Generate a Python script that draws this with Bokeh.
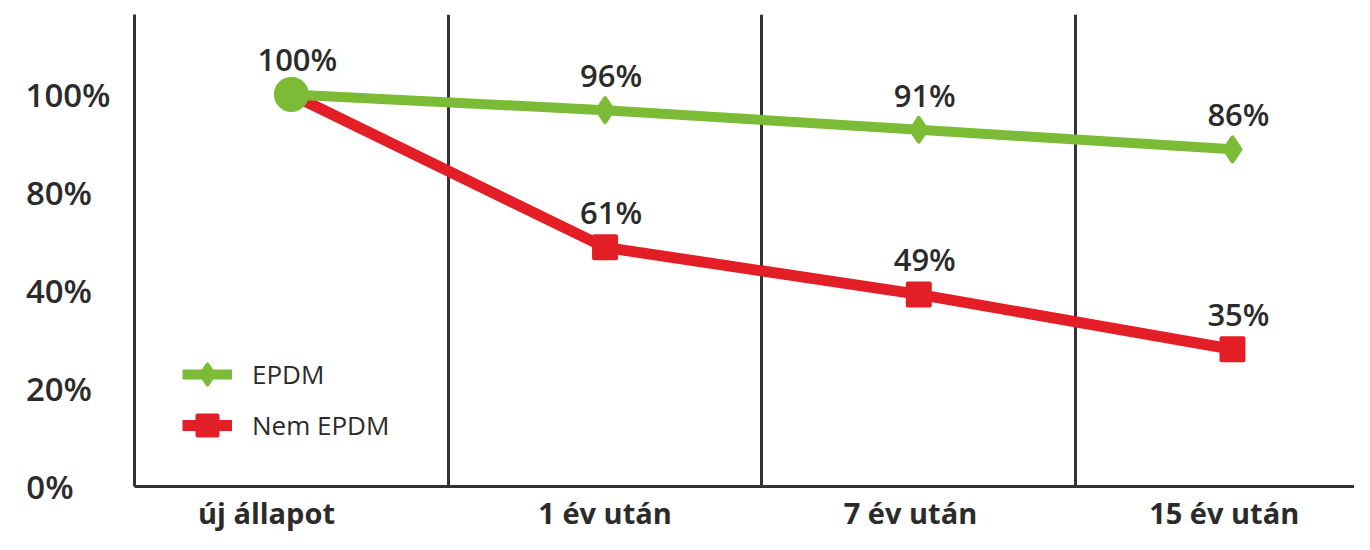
from bokeh.plotting import figure
from bokeh.models import ColumnDataSource, FixedTicker, Legend, LegendItem
from bokeh.core.properties import value
from bokeh.embed import file_html
from bokeh.resources import INLINE

# ---- data ----
categories = ["új állapot", "1 év után", "7 év után", "15 év után"]
epdm = [100, 96, 91, 86]
nem_epdm = [100, 61, 49, 35]
epdm_labels = ["100%", "96%", "91%", "86%"]
nem_epdm_labels = ["100%", "61%", "49%", "35%"]
y_ticks = [0, 25, 50, 75, 100]
y_tick_labels = ["0%", "20%", "40%", "80%", "100%"]

GREEN = "#7cbb36"
RED = "#e31e26"
DARK = "#333333"
TEXT = "#2b2b2b"
SEMI = "'Open Sans SemiBold', 'Open Sans'"
FS = "\u2007"  # figure space, used only to nudge label alignment

xs = [i + 1 for i in range(len(categories))]
boundaries = [i + 1.5 for i in range(len(categories) - 1)]

src_g = ColumnDataSource(dict(x=xs, y=epdm, t=epdm_labels))
src_r = ColumnDataSource(dict(x=xs, y=nem_epdm, t=nem_epdm_labels))
src_g_rest = ColumnDataSource(dict(x=xs[1:], y=epdm[1:], t=epdm_labels[1:]))
src_r_rest = ColumnDataSource(dict(x=xs[1:], y=nem_epdm[1:], t=nem_epdm_labels[1:]))
src_first = ColumnDataSource(dict(x=xs[:1], y=epdm[:1], t=epdm_labels[:1]))

p = figure(width=1354, height=534, x_range=(0.5, 4.389), y_range=(0, 120.4),
           output_backend="svg", toolbar_location=None,
           min_border_left=134, min_border_right=0, min_border_top=14, min_border_bottom=0)
p.outline_line_color = None
p.background_fill_color = "white"

# grid
p.ygrid.grid_line_color = None
p.xgrid.ticker = FixedTicker(ticks=boundaries)
p.xgrid.grid_line_color = DARK
p.xgrid.grid_line_width = 3

# axes
for ax in (p.xaxis[0], p.yaxis[0]):
    ax.axis_line_color = DARK
    ax.axis_line_width = 3
    ax.major_tick_line_color = None
    ax.minor_tick_line_color = None
    ax.major_tick_out = 0
    ax.major_tick_in = 0
    ax.minor_tick_out = 0
    ax.minor_tick_in = 0
    ax.major_label_text_color = TEXT

# x labels sit slightly left of the category centres in the original
x_nudge = [3, 0, 1, 1]
p.xaxis.ticker = FixedTicker(ticks=xs)
p.xaxis.major_label_overrides = {x: c + FS * n for x, c, n in zip(xs, categories, x_nudge)}
p.xaxis.major_label_text_font = "Open Sans"
p.xaxis.major_label_text_font_style = "bold"
p.xaxis.major_label_text_font_size = "29px"
p.xaxis.major_label_standoff = 6

# pad shorter labels with figure spaces so the texts line up on their left edge
width_max = max(len(l) for l in y_tick_labels)
p.yaxis.ticker = FixedTicker(ticks=y_ticks)
p.yaxis.major_label_overrides = {t: l + FS * (width_max - len(l))
                                 for t, l in zip(y_ticks, y_tick_labels)}
p.yaxis.major_label_text_font = SEMI
p.yaxis.major_label_text_font_size = "33px"
p.yaxis.major_label_standoff = 24

# series
rl = p.line("x", "y", source=src_r, line_color=RED, line_width=11, line_join="round")
rs = p.scatter("x", "y", source=src_r_rest, marker="square", size=22,
               fill_color=RED, line_color=RED, line_width=4, line_join="round")
gl = p.line("x", "y", source=src_g, line_color=GREEN, line_width=10, line_join="round")
gd = p.scatter("x", "y", source=src_g_rest, marker="diamond", size=24,
               fill_color=GREEN, line_color=GREEN, line_width=4, line_join="round")
p.scatter("x", "y", source=src_first, marker="circle", size=35,
          fill_color=GREEN, line_color=None)

# value labels
for src in (src_g, src_r_rest):
    p.text("x", "y", text="t", source=src, x_offset=6, y_offset=-35,
           text_align="center", text_baseline="alphabetic",
           text_font=value(SEMI), text_font_size="31px", text_color=TEXT)

legend = Legend(items=[LegendItem(label="EPDM", renderers=[gl, gd]),
                       LegendItem(label="Nem EPDM", renderers=[rl, rs])],
                location=(48, 36), padding=0, margin=0, spacing=1,
                glyph_width=50, glyph_height=50, label_height=50,
                label_standoff=20, border_line_color=None,
                background_fill_alpha=0,
                label_text_font="Open Sans", label_text_font_size="26px",
                label_text_color=TEXT)
p.add_layout(legend)

open("out.html", "w").write(file_html(p, INLINE))
